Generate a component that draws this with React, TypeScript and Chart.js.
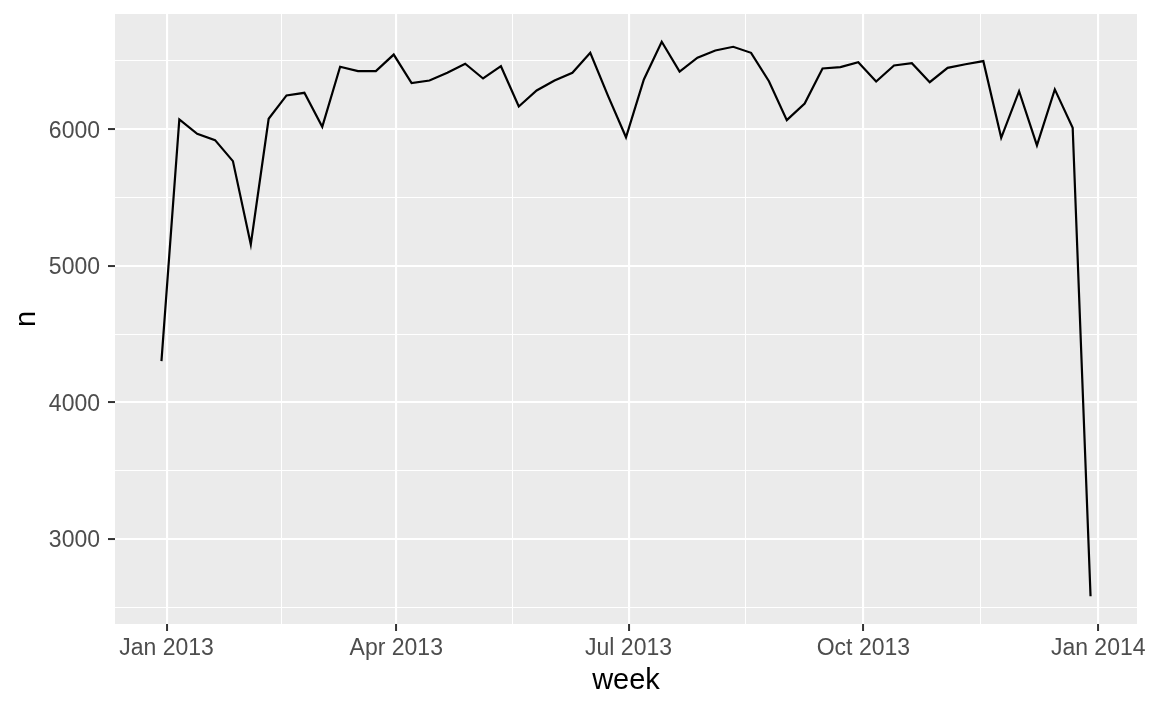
import React, { useEffect, useRef } from 'react';
import { Chart, registerables } from 'chart.js';

Chart.register(...registerables);

// Week start dates (floor to Sunday)
const weeks: string[] = [
  '2012-12-30', '2013-01-06', '2013-01-13', '2013-01-20', '2013-01-27',
  '2013-02-03', '2013-02-10', '2013-02-17', '2013-02-24',
  '2013-03-03', '2013-03-10', '2013-03-17', '2013-03-24', '2013-03-31',
  '2013-04-07', '2013-04-14', '2013-04-21', '2013-04-28',
  '2013-05-05', '2013-05-12', '2013-05-19', '2013-05-26',
  '2013-06-02', '2013-06-09', '2013-06-16', '2013-06-23', '2013-06-30',
  '2013-07-07', '2013-07-14', '2013-07-21', '2013-07-28',
  '2013-08-04', '2013-08-11', '2013-08-18', '2013-08-25',
  '2013-09-01', '2013-09-08', '2013-09-15', '2013-09-22', '2013-09-29',
  '2013-10-06', '2013-10-13', '2013-10-20', '2013-10-27',
  '2013-11-03', '2013-11-10', '2013-11-17', '2013-11-24',
  '2013-12-01', '2013-12-08', '2013-12-15', '2013-12-22', '2013-12-29',
];

// Number of flights per week
const flights: number[] = [
  4302, 6071, 5966, 5920, 5766,
  5156, 6076, 6247, 6266,
  6017, 6457, 6425, 6425, 6546,
  6337, 6356, 6413, 6479,
  6371, 6461, 6166, 6283,
  6356, 6413, 6559, 6242, 5941,
  6364, 6640, 6422, 6523,
  6576, 6603, 6559, 6351,
  6066, 6188, 6444, 6454, 6490,
  6349, 6466, 6483, 6344,
  6449, 6475, 6498, 5937,
  6278, 5881, 6291, 6010, 2581,
];

const xTickDates: string[] = ['2013-01-01', '2013-04-01', '2013-07-01', '2013-10-01', '2014-01-01'];
const xTickLabels: string[] = ['Jan 2013', 'Apr 2013', 'Jul 2013', 'Oct 2013', 'Jan 2014'];
const yMajorTicks: number[] = [3000, 4000, 5000, 6000];
const yMinorTicks: number[] = [2500, 3500, 4500, 5500, 6500];

const FONT = "'Liberation Sans', Arial, 'Noto Sans', sans-serif";

const ORIGIN = Date.parse('2013-01-01T00:00:00Z');
const toDay = (s: string) => (Date.parse(s + 'T00:00:00Z') - ORIGIN) / 86400000;

const xMajor = xTickDates.map(toDay);
const xMinor = xMajor.slice(1).map((v, i) => (v + xMajor[i]) / 2);

const dataX = weeks.map(toDay);
const xLo = Math.min(...dataX);
const xHi = Math.max(...dataX);
const xPad = (xHi - xLo) * 0.05;
const yLo = Math.min(...flights);
const yHi = Math.max(...flights);
const yPad = (yHi - yLo) * 0.05;

const near = (a: number, b: number) => Math.abs(a - b) < 1e-6;
const isXMajor = (v: number) => xMajor.some((m) => near(m, v));
const isYMajor = (v: number) => yMajorTicks.some((m) => near(m, v));

const panelBg = {
  id: 'panelBg',
  beforeDraw(chart: any) {
    const { ctx, chartArea } = chart;
    if (!chartArea) return;
    ctx.save();
    ctx.fillStyle = '#EBEBEB';
    ctx.fillRect(chartArea.left, chartArea.top, chartArea.right - chartArea.left, chartArea.bottom - chartArea.top);
    ctx.restore();
  },
};

export default function App() {
  const ref = useRef<HTMLCanvasElement>(null);

  useEffect(() => {
    document.body.style.margin = '0';
    const canvas = ref.current;
    if (!canvas) return;
    Chart.defaults.font.family = FONT;

    const chart = new Chart(canvas, {
      type: 'line',
      data: {
        datasets: [
          {
            data: weeks.map((w, i) => ({ x: toDay(w), y: flights[i] })),
            borderColor: '#000000',
            borderWidth: 2.2,
            pointRadius: 0,
            tension: 0,
            fill: false,
          },
        ],
      },
      plugins: [panelBg],
      options: {
        responsive: false,
        animation: false,
        devicePixelRatio: 1,
        layout: { padding: { top: 14, right: 15, left: 0, bottom: 0 } },
        plugins: {
          legend: { display: false },
          tooltip: { enabled: false },
        },
        scales: {
          x: {
            type: 'linear',
            min: xLo - xPad,
            max: xHi + xPad,
            afterBuildTicks: (s: any) => {
              s.ticks = [...xMajor, ...xMinor].sort((a, b) => a - b).map((v) => ({ value: v }));
            },
            afterFit: (s: any) => {
              s.height = 87;
              s.paddingLeft = 0;
              s.paddingRight = 0;
              s.paddingTop = 0;
              s.paddingBottom = 0;
            },
            ticks: {
              autoSkip: false,
              maxRotation: 0,
              minRotation: 0,
              padding: 4,
              color: '#4D4D4D',
              font: { size: 23, family: FONT },
              callback: (v: any) => {
                const i = xMajor.findIndex((m) => near(m, Number(v)));
                return i >= 0 ? xTickLabels[i] : '';
              },
            },
            grid: {
              color: '#FFFFFF',
              lineWidth: (c: any) => (c.tick && isXMajor(c.tick.value) ? 2.1 : 1.05),
              tickColor: (c: any) => (c.tick && isXMajor(c.tick.value) ? '#333333' : 'rgba(0,0,0,0)'),
              tickWidth: 2,
              tickLength: 7,
              drawTicks: true,
            },
            border: { display: false },
            title: {
              display: true,
              text: 'week',
              color: '#000000',
              font: { size: 29, family: FONT },
              padding: { top: 0, bottom: 13 },
            },
          },
          y: {
            type: 'linear',
            min: yLo - yPad,
            max: yHi + yPad,
            afterBuildTicks: (s: any) => {
              s.ticks = [...yMajorTicks, ...yMinorTicks].sort((a, b) => a - b).map((v) => ({ value: v }));
            },
            afterFit: (s: any) => {
              s.width = 115;
              s.paddingLeft = 0;
              s.paddingRight = 0;
              s.paddingTop = 0;
              s.paddingBottom = 0;
            },
            ticks: {
              autoSkip: false,
              padding: 8,
              labelOffset: 2,
              color: '#4D4D4D',
              font: { size: 23, family: FONT },
              callback: (v: any) => (isYMajor(Number(v)) ? String(v) : ''),
            },
            grid: {
              color: '#FFFFFF',
              lineWidth: (c: any) => (c.tick && isYMajor(c.tick.value) ? 2.1 : 1.05),
              tickColor: (c: any) => (c.tick && isYMajor(c.tick.value) ? '#333333' : 'rgba(0,0,0,0)'),
              tickWidth: 2,
              tickLength: 7,
              drawTicks: true,
            },
            border: { display: false },
            title: {
              display: true,
              text: 'n',
              color: '#000000',
              font: { size: 29, family: FONT },
              padding: { top: 10, bottom: 0 },
            },
          },
        },
      },
    } as any);

    return () => chart.destroy();
  }, []);

  return (
    <div style={{ position: 'fixed', left: 0, top: 0, width: 1152, height: 711, background: '#FFFFFF' }}>
      <canvas ref={ref} width={1152} height={711} style={{ width: 1152, height: 711, display: 'block' }} />
    </div>
  );
}
